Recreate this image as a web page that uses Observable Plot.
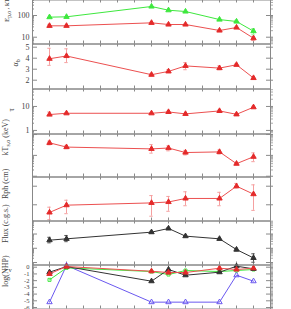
<!DOCTYPE html>
<html><head><meta charset="utf-8">
<script src="https://cdn.jsdelivr.net/npm/d3@7"></script>
<script src="https://cdn.jsdelivr.net/npm/@observablehq/plot@0.6"></script>
<style>
body{margin:0;background:#fff;}
#chart{width:291px;height:309px;overflow:hidden;}
#chart svg{display:block;margin-top:-1px;overflow:visible;background:transparent;}
</style></head><body><div id="chart"></div>
<script>
// x positions (time bins)
const bins = [1, 2, 7, 8, 9, 11, 12, 13];

// Panel 1: Ep,o (green) and kTe,o (red)
const epo   = [84, 87, 260, 175, 153, 65, 53, 19];
const epoLo = [null, null, null, null, null, null, 47, 13];
const epoHi = [null, null, null, null, null, null, 60, 25];
const kteo   = [33.5, 33.5, 46, 38.5, 38.5, 20.4, 28, 9];
const kteoLo = [28, 31, 43, 36, 36, 19, 26, 7];
const kteoHi = [39, 36, 50, 41, 41, 22, 30, 10.5];

// Panel 2: alpha_b
const alphab   = [3.95, 4.2, 2.5, 2.8, 3.3, 3.1, 3.4, 2.2];
const alphabLo = [3.35, 3.6, 2.4, 2.7, 2.95, 2.95, 3.3, 2.1];
const alphabHi = [4.9, 4.85, 2.6, 2.95, 3.6, 3.3, 3.5, 2.3];

// Panel 3: tau
const tau   = [4.6, 5.2, 5.2, 5.9, 4.9, 6.5, 4.7, 9.3];
const tauLo = [4.2, 4.9, 4.9, 5.5, 4.6, 6.0, 4.4, 8.6];
const tauHi = [5.9, 5.6, 5.6, 6.4, 5.2, 7.1, 5.1, 10.2];

// Panel 4: kTs,o (keV)
const ktso   = [4.0, 2.5, 2.05, 2.25, 1.37, 1.47, 0.4, 0.86];
const ktsoLo = [3.2, 2.1, 1.28, 1.65, 1.05, 1.15, 0.36, 0.5];
const ktsoHi = [4.8, 3.0, 3.3, 2.85, 1.75, 1.8, 0.44, 1.32];

// Panel 5: Rph (cm)
const rph   = [1.5e13, 9.1e13, 1.6e14, 2.0e14, 4.8e14, 4.8e14, 1.0e16, 1.4e15];
const rphLo = [2.5e12, 1.1e13, 5.9e12, 2.0e13, 7.9e13, 7.9e13, 6.3e15, 2.5e13];
const rphHi = [5.5e13, 3.1e14, 9.8e14, 7.9e14, 2.5e15, 2.2e15, 2.0e16, 1.4e16];

// Panel 6: Flux (c.g.s.)
const flux   = [3.7e-7, 4.6e-7, 1.35e-6, 2.45e-6, 7.1e-7, 4.6e-7, 8.1e-8, 2.1e-8];
const fluxLo = [2.4e-7, 2.9e-7, 1.15e-6, 2.15e-6, 6.5e-7, 4.1e-7, 6.6e-8, 1.05e-8];
const fluxHi = [5.9e-7, 7.9e-7, 1.55e-6, 2.8e-6, 7.7e-7, 5.1e-7, 1.0e-7, 4.1e-8];

// Panel 7: log(NHP)
const nhpBlack = [-0.74, 0.1, -2.08, -0.34, -1.19, -0.74, 0.15, -0.24];
const nhpRed   = [-0.99, 0.1, -0.6, -0.79, -0.79, -0.15, -0.34, -0.15];
const nhpGreen = [-1.88, -0.1, -0.64, -1.09, -0.49, -0.64, -0.49, -0.34];
const nhpBlue  = [-5.2, 0.25, -5.2, -5.2, -5.2, -5.2, -1.19, -2.08];

// Tick labels
const ticksEp = [10, 100];
const ticksAlpha = [2, 3, 4, 5];
const ticksTau = [1, 10];
const ticksKts = [0.1, 1, 10];
const labelsKts = ["0.1", "1.0", "10.0"];
const ticksRph = [1e14, 1e16];
const labelsRph = ["10\u00B9\u2074", "10\u00B9\u2076"];
const ticksFlux = [1e-8, 1e-7, 1e-6];
const labelsFlux = ["10\u207B\u2078", "10\u207B\u2077", "10\u207B\u2076"];
const ticksNhp = [-6, -5, -4, -3, -2, -1, 0];
const xTicks = [1, 2, 3, 4, 5, 6, 7, 8, 9, 10, 11, 12, 13];

const W = 291, ML = 32, MR = 21;
const RED = "#e42a2a", RED_LINE = "#ec5050", PINK = "#f5a0a0";
const GREEN = "#3ee83e", BLACK = "#333333", BLUE = "#6a58f0";
const FONT = "Liberation Serif";

function rows(v, lo, hi) {
  return bins.map((x, i) => ({x, v: v[i], lo: lo ? lo[i] : null, hi: hi ? hi[i] : null}));
}
function logMinor(lo, hi) {
  const out = [];
  for (let e = Math.floor(Math.log10(lo)); e <= Math.ceil(Math.log10(hi)); e++)
    for (let m = 2; m <= 9; m++) { const t = m * Math.pow(10, e); if (t > lo && t < hi) out.push(t); }
  return out;
}

function panel(cfg) {
  const {H, type, domain, ticks, fmt, minor, title, titleX, titleSize = 8, tickFont = 8, series} = cfg;
  const iw = W - ML - MR;
  const tk = "#8a8a8a";
  const marks = [];
  if (minor) {
    marks.push(Plot.tickY(minor, {y: d => d, insetRight: iw - 2, stroke: tk}));
    marks.push(Plot.tickY(minor, {y: d => d, insetLeft: iw, insetRight: -3, stroke: "#aaa"}));
  }
  marks.push(Plot.tickY(ticks, {y: d => d, insetRight: iw - 5, stroke: tk}));
  marks.push(Plot.tickY(ticks, {y: d => d, insetLeft: iw - 4, insetRight: -3, stroke: tk}));
  marks.push(Plot.tickX(xTicks, {x: d => d, insetBottom: H - 1 - 3, stroke: tk}));
  marks.push(Plot.tickX(xTicks, {x: d => d, insetTop: H - 1 - 3, stroke: tk}));
  marks.push(Plot.axisY(ticks, {tickSize: 0, tickPadding: 3, tickFormat: fmt, fontSize: tickFont, fill: "#444"}));
  marks.push(Plot.text([title.plain], {text: d => d, frameAnchor: "left", dx: -(ML - titleX), rotate: -90, fontSize: titleSize, fill: "#444"}));
  for (const s of series) {
    const data = rows(s.v, s.lo, s.hi);
    const err = data.filter(d => d.lo != null);
    if (err.length) {
      marks.push(Plot.ruleX(err, {x: "x", y1: "lo", y2: "hi", stroke: s.err}));
      marks.push(Plot.ruleY(err, {y: "lo", x1: d => d.x - 0.1, x2: d => d.x + 0.1, stroke: s.err}));
      marks.push(Plot.ruleY(err, {y: "hi", x1: d => d.x - 0.1, x2: d => d.x + 0.1, stroke: s.err}));
    }
    marks.push(Plot.line(data, {x: "x", y: "v", stroke: s.line, strokeWidth: 1}));
    marks.push(Plot.dot(data, {x: "x", y: "v", symbol: s.symbol || "triangle", r: s.symbol ? 1.7 : 2,
      fill: s.open ? "none" : s.color, stroke: s.color, strokeWidth: 1}));
  }
  marks.push(Plot.frame({stroke: "#888"}));
  const svg = Plot.plot({
    width: W, height: H, marginLeft: ML, marginRight: MR, marginTop: 0.5, marginBottom: 0.5,
    x: {domain: [0, 14], axis: null},
    y: {type, domain},
    style: {fontFamily: FONT, background: "transparent", overflow: "visible"},
    marks
  });
  // subscripts in the title
  d3.select(svg).selectAll("text").each(function () {
    if (this.textContent === title.plain && title.parts) {
      const t = d3.select(this);
      t.text(null);
      let prevSub = false;
      for (const [str, sub] of title.parts) {
        t.append("tspan").attr("font-size", sub ? titleSize * 0.75 : titleSize)
          .attr("dy", sub ? 2 : (prevSub ? -2 : 0)).text(str);
        prevSub = !!sub;
      }
    }
  });
  return svg;
}

const chart = document.getElementById("chart");
const panels = [
  {H: 45, type: "log", domain: [4.87, 518], ticks: ticksEp, fmt: d => String(d),
   minor: logMinor(4.87, 518), titleX: 6, titleSize: 7,
   title: {plain: "Ep,o , kTe,o", parts: [["E", 0], ["p,o", 1], [" , kT", 0], ["e,o", 1]]},
   series: [
     {v: epo, lo: epoLo, hi: epoHi, color: GREEN, line: GREEN, err: "#9af09a"},
     {v: kteo, lo: kteoLo, hi: kteoHi, color: RED, line: RED_LINE, err: PINK}
   ]},
  {H: 46, type: "linear", domain: [1.2, 5.29], ticks: ticksAlpha, fmt: d => String(d),
   minor: null, titleX: 15,
   title: {plain: "\u03B1b", parts: [["\u03B1", 0], ["b", 1]]},
   series: [{v: alphab, lo: alphabLo, hi: alphabHi, color: RED, line: RED_LINE, err: PINK}]},
  {H: 46, type: "log", domain: [0.71, 53.5], ticks: ticksTau, fmt: d => String(d),
   minor: logMinor(0.71, 53.5), titleX: 11,
   title: {plain: "\u03C4"},
   series: [{v: tau, lo: tauLo, hi: tauHi, color: RED, line: RED_LINE, err: PINK}]},
  {H: 44, type: "log", domain: [0.092, 10.6], ticks: ticksKts, fmt: (d, i) => labelsKts[i],
   minor: logMinor(0.092, 10.6), titleX: 5,
   title: {plain: "kTs,o (keV)", parts: [["kT", 0], ["s,o", 1], [" (keV)", 0]]},
   series: [{v: ktso, lo: ktsoLo, hi: ktsoHi, color: RED, line: RED_LINE, err: PINK}]},
  {H: 45, type: "log", domain: [1.8e12, 9.8e16], ticks: ticksRph, fmt: (d, i) => labelsRph[i],
   minor: null, titleX: 5,
   title: {plain: "Rph (cm)"},
   series: [{v: rph, lo: rphLo, hi: rphHi, color: RED, line: RED_LINE, err: PINK}]},
  {H: 45, type: "log", domain: [6.7e-9, 8.2e-6], ticks: ticksFlux, fmt: (d, i) => labelsFlux[i],
   minor: logMinor(6.7e-9, 8.2e-6), titleX: 5,
   title: {plain: "Flux (c.g.s.)"},
   series: [{v: flux, lo: fluxLo, hi: fluxHi, color: BLACK, line: BLACK, err: "#555"}]},
  {H: 45, type: "linear", domain: [-6.22, 0.33], ticks: ticksNhp, fmt: d => String(d),
   minor: d3.range(-62, 4, 2).map(d => d / 10), titleX: 5, tickFont: 6.5,
   title: {plain: "log(NHP)"},
   series: [
     {v: nhpBlue, color: BLUE, line: BLUE, open: true},
     {v: nhpGreen, color: GREEN, line: GREEN, open: true, symbol: "square"},
     {v: nhpBlack, color: BLACK, line: BLACK},
     {v: nhpRed, color: RED, line: RED_LINE}
   ]}
];
for (const p of panels) chart.appendChild(panel(p));
</script>
</body></html>
